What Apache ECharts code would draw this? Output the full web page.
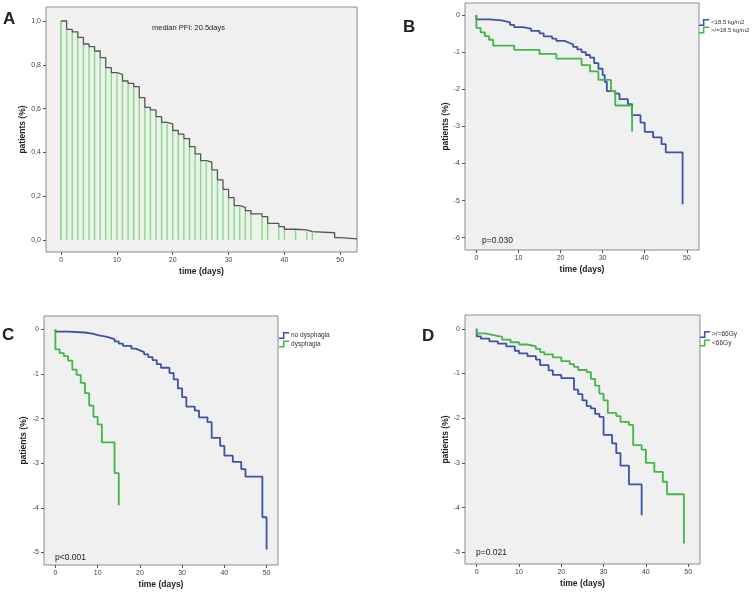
<!DOCTYPE html>
<html><head><meta charset="utf-8">
<script src="https://cdn.jsdelivr.net/npm/echarts@6/dist/echarts.min.js"></script>
<style>html,body{margin:0;padding:0;background:#fff}#c{width:753px;height:593px}</style>
</head><body><div id="c"></div>
<script>
// ---- tick labels ----
const xTicks = [0, 10, 20, 30, 40, 50];
const aYTicks = [0, 0.2, 0.4, 0.6, 0.8, 1.0];
const bYTicks = [0, -1, -2, -3, -4, -5, -6];
const cdYTicks = [0, -1, -2, -3, -4, -5];

// ---- panel A: overall progression-free curve ----
const aDays = [0,1,2,3,4,5,6,7,8,9,10,11,12,13,14,15,16,17,18,19,20,21,22,23,24,25,26,27,28,29,30,31,32,33,34,36,37,39,40,42,44,45,49,50,53];
const aSurv = [1.0,0.962,0.95,0.925,0.895,0.883,0.863,0.833,0.787,0.764,0.756,0.726,0.715,0.70,0.65,0.606,0.594,0.563,0.537,0.53,0.50,0.483,0.463,0.426,0.393,0.362,0.355,0.32,0.274,0.231,0.193,0.157,0.149,0.134,0.119,0.107,0.076,0.061,0.049,0.046,0.038,0.033,0.011,0.005,0.005];
const aMarkDays = [0,1,2,3,4,5,6,7,8,9,10,11,12,13,14,15,16,17,18,19,20,21,22,23,24,25,26,27,28,29,30,31,32,33,34,36,37,39,40,42,44,45];

// ---- panel B: BMI ----
const bNames = ['<18.5 kg/m2', '>/=18.5 kg/m2'];
const bBlueDays = [0,0,3,6,8,9,11,13,15,16,18,19,21,22,23,24,25,26,27,28,29,30,30.5,31,33,34,36,37,39,40,42,44,45,49];
const bBlueVals = [0,-0.12,-0.15,-0.2,-0.27,-0.33,-0.37,-0.43,-0.5,-0.58,-0.64,-0.7,-0.75,-0.8,-0.86,-0.93,-1.0,-1.08,-1.15,-1.3,-1.45,-1.62,-1.8,-2.05,-2.12,-2.27,-2.4,-2.7,-2.9,-3.15,-3.3,-3.48,-3.7,-5.1];
const bGreenDays = [0,0,1,2,3,4,9,15,19,25,27,29,32,33,37];
const bGreenVals = [0,-0.35,-0.47,-0.57,-0.67,-0.83,-0.94,-1.05,-1.18,-1.35,-1.52,-1.75,-2.05,-2.44,-3.14];

// ---- panel C: dysphagia ----
const cNames = ['no dysphagia', 'dysphagia'];
const cBlueDays = [0,0,3,7,9,10,12,13,14,15,16,18,19,20,21,22,23,24,25,27,28,29,30,31,33,34,36,37,39,40,42,44,45,49,50];
const cBlueVals = [0,-0.05,-0.07,-0.1,-0.13,-0.16,-0.19,-0.22,-0.27,-0.32,-0.37,-0.43,-0.47,-0.51,-0.56,-0.62,-0.69,-0.78,-0.86,-0.98,-1.12,-1.32,-1.52,-1.73,-1.82,-1.97,-2.08,-2.43,-2.61,-2.83,-2.97,-3.13,-3.3,-4.21,-4.93];
const cGreenDays = [0,0,1,2,3,4,5,6,7,8,9,10,11,14,15];
const cGreenVals = [0,-0.45,-0.53,-0.6,-0.7,-0.9,-1.02,-1.2,-1.43,-1.71,-1.96,-2.13,-2.53,-3.22,-3.94];

// ---- panel D: radiation dose ----
const dNames = ['>/=66Gy', '<66Gy'];
const dBlueDays = [0,0,1,3,5,7,9,10,12,14,15,17,18,20,23,24,25,26,27,28,29,30,32,33,34,36,39];
const dBlueVals = [0,-0.17,-0.22,-0.28,-0.33,-0.39,-0.49,-0.55,-0.61,-0.69,-0.81,-0.93,-1.03,-1.1,-1.36,-1.46,-1.6,-1.73,-1.78,-1.9,-1.97,-2.37,-2.56,-2.78,-3.06,-3.48,-4.17];
const dGreenDays = [0,0,2,4,6,8,10,12,14,15,16,18,20,22,23,24,26,27,28,29,30,31,33,34,36,37,39,40,42,44,45,49];
const dGreenVals = [0,-0.1,-0.14,-0.18,-0.24,-0.3,-0.35,-0.39,-0.45,-0.52,-0.57,-0.64,-0.72,-0.79,-0.85,-0.92,-0.97,-1.12,-1.27,-1.45,-1.6,-1.88,-1.95,-2.08,-2.15,-2.6,-2.7,-3.0,-3.2,-3.42,-3.7,-4.8];

// ---- styling ----
const FONT = 'Liberation Sans, Arial, sans-serif';
const BLUE = '#3d52a6';
const GREEN = '#41b649';
const zip = (xs, ys) => xs.map((x, i) => [x, ys[i]]);

function xAxis(gi, min, max, gap) {
  return {
    type: 'value', gridIndex: gi, min: min, max: max, position: 'bottom',
    axisLine: { show: false, onZero: false }, splitLine: { show: false },
    axisTick: { show: true, length: 3, customValues: xTicks, lineStyle: { color: '#555' } },
    axisLabel: { customValues: xTicks, fontSize: 7, color: '#444', margin: 5, fontFamily: FONT },
    name: 'time (days)', nameLocation: 'middle', nameGap: gap,
    nameTextStyle: { fontSize: 8.5, fontWeight: 'bold', color: '#222', fontFamily: FONT }
  };
}
function yAxis(gi, min, max, ticks, gap, fmt) {
  return {
    type: 'value', gridIndex: gi, min: min, max: max, position: 'left',
    axisLine: { show: false, onZero: false }, splitLine: { show: false },
    axisTick: { show: true, length: 3, customValues: ticks, lineStyle: { color: '#555' } },
    axisLabel: { customValues: ticks, fontSize: 7, color: '#444', margin: 5, fontFamily: FONT, formatter: fmt },
    name: 'patients (%)', nameLocation: 'middle', nameGap: gap, nameRotate: 90,
    nameTextStyle: { fontSize: 8.5, fontWeight: 'bold', color: '#222', fontFamily: FONT }
  };
}
const gridStyle = { show: true, backgroundColor: '#f0f0f0', borderColor: '#8c8c8c', borderWidth: 1 };
function kmLine(name, gi, data, color) {
  return { type: 'line', name: name, xAxisIndex: gi, yAxisIndex: gi, data: data, step: 'end',
    symbol: 'none', lineStyle: { color: color, width: 1.8 }, itemStyle: { color: color }, z: 3 };
}
const stepIcon = 'path://M0,7 L5,7 L5,0 L13,0 L13,2 L7,2 L7,9 L0,9 Z';
function legend(names, left, top, gap, fs) {
  return { data: names, left: left, top: top, orient: 'vertical', itemWidth: 12, itemHeight: 7,
    itemGap: gap, icon: stepIcon, padding: 0,
    textStyle: { fontSize: fs, color: '#333', fontFamily: FONT, padding: [0, 0, 0, -4] } };
}
function txt(x, y, s, size, weight, align) {
  return { type: 'text', left: x, top: y, style: { text: s, fontSize: size, fontWeight: weight || 'normal',
    fill: '#222', fontFamily: FONT, textAlign: align || 'left' }, z: 10 };
}

const aLookup = {};
aDays.forEach((d, i) => { aLookup[d] = aSurv[i]; });
const aMarks = aMarkDays.map(d => [d, aLookup[d]]);

const chart = echarts.init(document.getElementById('c'), null, { renderer: 'canvas' });
chart.setOption({
  animation: false,
  backgroundColor: '#fff',
  grid: [
    Object.assign({ left: 46, top: 7, width: 311, height: 245 }, gridStyle),
    Object.assign({ left: 465, top: 3, width: 234, height: 247 }, gridStyle),
    Object.assign({ left: 44, top: 316, width: 234, height: 249 }, gridStyle),
    Object.assign({ left: 465, top: 315, width: 235, height: 249 }, gridStyle)
  ],
  xAxis: [
    xAxis(0, -2.7, 53, 15),
    xAxis(1, -2.7, 52.9, 15),
    xAxis(2, -2.7, 52.7, 15),
    xAxis(3, -2.77, 52.8, 15)
  ],
  yAxis: [
    yAxis(0, -0.055, 1.064, aYTicks, 19, v => v.toFixed(1).replace('.', ',')),
    yAxis(1, -6.33, 0.32, bYTicks, 14, v => String(v)),
    yAxis(2, -5.28, 0.3, cdYTicks, 16, v => String(v)),
    yAxis(3, -5.26, 0.31, cdYTicks, 14, v => String(v))
  ],
  legend: [
    legend(bNames, 699, 19, 0.5, 6),
    legend(cNames, 279, 332, 1.5, 6.5),
    legend(dNames, 700, 331, 1.5, 6.5)
  ],
  graphic: [
    txt(3, 11, 'A', 17, 'bold'),
    txt(403, 19, 'B', 17, 'bold'),
    txt(2, 327, 'C', 17, 'bold'),
    txt(422, 328, 'D', 17, 'bold'),
    txt(152, 24, 'median PFI: 20.5days', 7.5),
    txt(482, 236, 'p=0.030', 8.5),
    txt(55, 553, 'p<0.001', 8.5),
    txt(476, 548, 'p=0.021', 8.5)
  ],
  series: [
    { type: 'line', name: 'PFI', xAxisIndex: 0, yAxisIndex: 0, data: zip(aDays, aSurv), step: 'end',
      symbol: 'none', lineStyle: { color: '#555', width: 1.3 },
      areaStyle: { color: 'rgba(225,245,225,0.55)', origin: 0 }, z: 3 },
    { type: 'bar', name: 'events', xAxisIndex: 0, yAxisIndex: 0, data: aMarks, barWidth: 1.4,
      itemStyle: { color: '#5cc35c' }, z: 2 },
    kmLine(bNames[0], 1, zip(bBlueDays, bBlueVals), BLUE),
    kmLine(bNames[1], 1, zip(bGreenDays, bGreenVals), GREEN),
    kmLine(cNames[0], 2, zip(cBlueDays, cBlueVals), BLUE),
    kmLine(cNames[1], 2, zip(cGreenDays, cGreenVals), GREEN),
    kmLine(dNames[0], 3, zip(dBlueDays, dBlueVals), BLUE),
    kmLine(dNames[1], 3, zip(dGreenDays, dGreenVals), GREEN)
  ]
});
</script>
</body></html>
